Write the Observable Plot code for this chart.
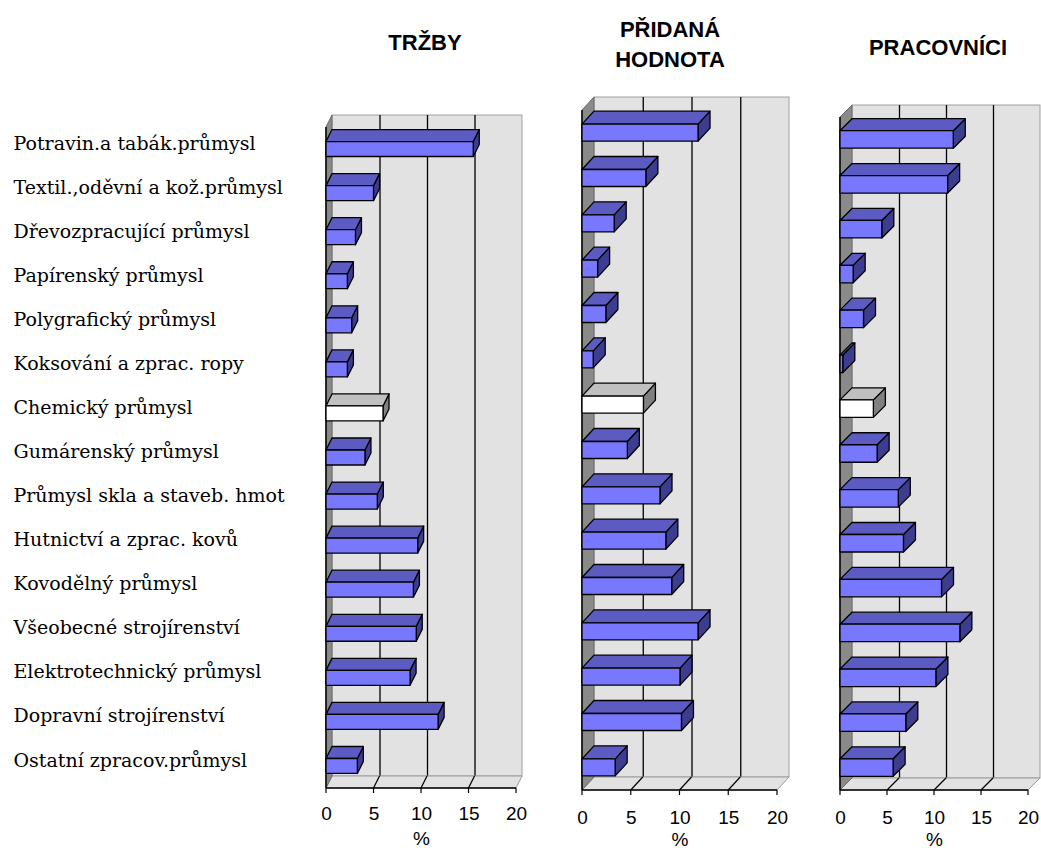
<!DOCTYPE html>
<html>
<head>
<meta charset="utf-8">
<script src="https://cdn.jsdelivr.net/npm/d3@7"></script>
<script src="https://cdn.jsdelivr.net/npm/@observablehq/plot@0.6"></script>
<style>
  body { margin: 0; background: #fff; }
  #chart { position: relative; width: 1041px; height: 848px; overflow: hidden; }
  .panel { position: absolute; top: 0; }
  .title {
    position: absolute; width: 200px; text-align: center;
    font-family: "Liberation Sans", Arial, sans-serif; font-weight: bold;
    font-size: 22px; line-height: 30px; color: #000; white-space: pre;
  }
</style>
</head>
<body>
<div id="chart"></div>
<script>
// Industry branches (rows, top to bottom)
const categories = [
  "Potravin.a tabák.průmysl",
  "Textil.,oděvní a kož.průmysl",
  "Dřevozpracující průmysl",
  "Papírenský průmysl",
  "Polygrafický průmysl",
  "Koksování a zprac. ropy",
  "Chemický průmysl",
  "Gumárenský průmysl",
  "Průmysl skla a staveb. hmot",
  "Hutnictví a zprac. kovů",
  "Kovodělný průmysl",
  "Všeobecné strojírenství",
  "Elektrotechnický průmysl",
  "Dopravní strojírenství",
  "Ostatní zpracov.průmysl"
];

// Shares in % for each panel
const trzby          = [15.5, 5.0, 3.1, 2.25, 2.7, 2.25, 6.0, 4.1, 5.4, 9.65, 9.2, 9.5, 8.85, 11.8, 3.3];
const pridanaHodnota = [11.9, 6.55, 3.3, 1.6, 2.45, 1.15, 6.3, 4.65, 8.0, 8.6, 9.2, 11.9, 10.05, 10.2, 3.4];
const pracovnici     = [12.05, 11.45, 4.45, 1.4, 2.5, 0.3, 3.55, 3.95, 6.2, 6.75, 10.8, 12.75, 10.2, 7.0, 5.65];

const highlighted = "Chemický průmysl";
const xTicks = [0, 5, 10, 15, 20];
const xLabel = "%";
const panelTitles = ["TRŽBY", "PŘIDANÁ\nHODNOTA", "PRACOVNÍCI"];

// Panel geometry: frame margins plus the pixel depth of the 3-D box
const layouts = [
  {left: 0,   width: 540, marginLeft: 326, marginRight: 24, marginTop: 127, marginBottom: 60,
   depthX: 6,  depthY: 12, barFrac: 0.34,  tickDy: 31, pctDy: 56, labels: true,
   title: {cx: 425, top: 28}},
  {left: 545, width: 250, marginLeft: 37,  marginRight: 18, marginTop: 110, marginBottom: 58,
   depthX: 12, depthY: 13, barFrac: 0.375, tickDy: 33, pctDy: 55,
   title: {cx: 670, top: 15}},
  {left: 800, width: 241, marginLeft: 40,  marginRight: 13, marginTop: 117, marginBottom: 58,
   depthX: 12, depthY: 12, barFrac: 0.39,  tickDy: 33, pctDy: 55,
   title: {cx: 938, top: 33}}
];
const seriesList = [trzby, pridanaHodnota, pracovnici];

const n = categories.length;

// Left side wall, floor, floor gridlines and the front x axis line with ticks
function box3d(L) {
  return (index, scales) => {
    const {x, y} = scales;
    const x0 = x(0), x1 = x(20), yt = y(-0.5), yb = y(n - 0.5);
    const dx = L.depthX, dy = L.depthY;
    const g = d3.create("svg:g");
    g.append("path")
      .attr("d", `M${x0},${yb}L${x1},${yb}L${x1 + dx},${yb - dy}L${x0 + dx},${yb - dy}Z`)
      .attr("fill", "#e2e2e2").attr("stroke", "#9a9a9a");
    for (const t of xTicks.slice(1, -1)) {
      g.append("line")
        .attr("x1", x(t)).attr("y1", yb).attr("x2", x(t) + dx).attr("y2", yb - dy)
        .attr("stroke", "#000").attr("stroke-width", 1.2);
    }
    g.append("path")
      .attr("d", `M${x0},${yt}L${x0 + dx},${yt - dy}L${x0 + dx},${yb - dy}L${x0},${yb}Z`)
      .attr("fill", "#8a8a8a").attr("stroke", "#6a6a6a");
    g.append("line")
      .attr("x1", x0).attr("y1", yt).attr("x2", x0).attr("y2", yb)
      .attr("stroke", "#000").attr("stroke-width", 1.5);
    g.append("line")
      .attr("x1", x0).attr("y1", yb).attr("x2", x1).attr("y2", yb)
      .attr("stroke", "#000").attr("stroke-width", 1.5);
    for (const t of xTicks) {
      g.append("line")
        .attr("x1", x(t)).attr("y1", yb).attr("x2", x(t)).attr("y2", yb + 5)
        .attr("stroke", "#000").attr("stroke-width", 1.2);
    }
    return g.node();
  };
}

// Box-shaped bars: right side, top and front face
function bars3d(values, L) {
  return (index, scales) => {
    const {x, y} = scales;
    const band = Math.abs(y(1) - y(0));
    const h = band * L.barFrac;
    const dx = L.depthX, dy = L.depthY;
    const g = d3.create("svg:g")
      .attr("stroke", "#000").attr("stroke-width", 1.3).attr("stroke-linejoin", "round");
    values.forEach((v, i) => {
      const hi = categories[i] === highlighted;
      const xa = x(0), xb = x(v), yc = y(i), t = yc - h / 2, b = yc + h / 2;
      g.append("path")
        .attr("d", `M${xb},${t}L${xb + dx},${t - dy}L${xb + dx},${b - dy}L${xb},${b}Z`)
        .attr("fill", hi ? "#808080" : "#3d3d90");
      g.append("path")
        .attr("d", `M${xa},${t}L${xb},${t}L${xb + dx},${t - dy}L${xa + dx},${t - dy}Z`)
        .attr("fill", hi ? "#c0c0c0" : "#5b5bc2");
      g.append("rect")
        .attr("x", xa).attr("y", t).attr("width", Math.max(0, xb - xa)).attr("height", h)
        .attr("fill", hi ? "#ffffff" : "#7878ff");
    });
    return g.node();
  };
}

const chart = document.getElementById("chart");

layouts.forEach((L, p) => {
  const values = seriesList[p];
  const marks = [
    // back wall
    Plot.rect([0], {x1: () => 0, x2: () => 20, y1: () => -0.5, y2: () => n - 0.5,
      dx: L.depthX, dy: -L.depthY, fill: "#e2e2e2", stroke: "#a0a0a0"}),
    // gridlines on the back wall
    Plot.ruleX(xTicks.slice(1, -1), {x: d => d, y1: () => -0.5, y2: () => n - 0.5,
      dx: L.depthX, dy: -L.depthY, stroke: "#000", strokeWidth: 1.3}),
    box3d(L),
    bars3d(values, L),
    Plot.text(xTicks, {x: d => d, text: d => String(d), frameAnchor: "bottom", dy: L.tickDy,
      fontSize: 19, fontFamily: "Liberation Sans, Arial, sans-serif", fill: "#000"}),
    Plot.text([xLabel], {x: () => 10, text: d => d, frameAnchor: "bottom", dy: L.pctDy,
      fontSize: 19, fontFamily: "Liberation Sans, Arial, sans-serif", fill: "#000"})
  ];
  if (L.labels) {
    marks.push(Plot.text(categories, {y: (d, i) => i, text: d => d, frameAnchor: "left",
      textAnchor: "start", dx: 13 - L.marginLeft, dy: -L.depthY / 2,
      fontSize: 19, fontFamily: "DejaVu Serif, Liberation Serif, serif", fill: "#000"}));
  }
  const svg = Plot.plot({
    width: L.width,
    height: 848,
    marginLeft: L.marginLeft,
    marginRight: L.marginRight,
    marginTop: L.marginTop,
    marginBottom: L.marginBottom,
    x: {domain: [0, 20], axis: null},
    y: {domain: [-0.5, n - 0.5], reverse: true, axis: null},
    style: {background: "transparent", overflow: "visible"},
    marks
  });
  svg.classList.add("panel");
  svg.style.left = L.left + "px";
  chart.appendChild(svg);

  const title = document.createElement("div");
  title.className = "title";
  title.textContent = panelTitles[p];
  title.style.left = (L.title.cx - 100) + "px";
  title.style.top = L.title.top + "px";
  chart.appendChild(title);
});
</script>
</body>
</html>
